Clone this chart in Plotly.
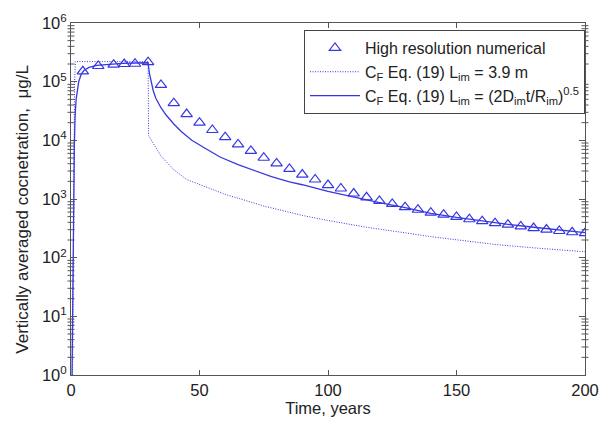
import plotly.graph_objects as go

# High resolution numerical (triangles)
t_num = [4.6, 10.6, 16.6, 20.7, 24.9, 30, 35, 40, 45, 50, 55, 60, 65, 70, 75, 80, 85, 90,
         95, 100, 105, 110, 115, 120, 125, 130, 135, 140, 145, 150, 155, 160, 165, 170,
         175, 180, 185, 190, 195, 200]
c_num = [1.5e5, 1.85e5, 1.95e5, 2.0e5, 2.02e5, 2.15e5, 88000, 43000, 28000, 20000, 15000,
         11300, 8500, 6600, 5050, 4050, 3250, 2610, 2150, 1730, 1510, 1240, 1070, 926, 825,
         727, 656, 584, 541, 496, 452, 419, 387, 365, 341, 320, 301, 285, 271, 261]

# C_F Eq. (19), L_im = 3.9 m (dotted)
t_fix = [0.6, 1.0, 1.4, 1.7, 5, 10, 20, 30, 30.2, 31, 32, 33, 35, 38, 40, 45, 50, 60, 75,
         90, 100, 115, 130, 140, 155, 165, 180, 190, 200]
c_fix = [1, 2000, 1e5, 2.2e5, 2.2e5, 2.2e5, 2.2e5, 2.2e5, 1.2e4, 1.05e4, 8800, 7300, 5400,
         3900, 3150, 2150, 1760, 1200, 760, 525, 430, 330, 265, 228, 190, 168, 147, 135, 126]

# C_F Eq. (19), L_im = (2 D_im t / R_im)^0.5 (solid)
t_var = [0.4, 0.8, 1.0, 1.3, 1.6, 2, 3, 4, 5, 7, 10, 15, 20, 25, 30, 30.5, 31, 32, 33, 35,
         37, 40, 43, 47, 52, 58, 65, 72, 78, 85, 90, 100, 110, 120, 130, 140, 150, 160, 170,
         180, 190, 200]
c_var = [1, 100, 1000, 8000, 26000, 50000, 100000, 135000, 155000, 175000, 190000, 200000,
         205000, 208000, 210000, 140000, 105000, 70000, 52000, 36000, 27000, 19000, 14000,
         10000, 7400, 5200, 3850, 2950, 2400, 1950, 1750, 1350, 1070, 870, 710, 570, 485, 420,
         370, 330, 298, 268]

x_ticks = [0, 50, 100, 150, 200]
x_range = [0, 200]
y_ticks = [1, 10, 100, 1000, 10000, 100000, 1000000]
y_ticktext = ["10<sup>%d</sup>" % i for i in range(7)]
y_minor = [k * 10 ** e for e in range(6) for k in range(2, 10)]

blue = "rgb(55,55,225)"
axis_col = "#555"
font = "Liberation Sans, Arial, sans-serif"

fig = go.Figure()
# minor log ticks on left and right frame edges
fig.add_trace(go.Scatter(
    x=[x_range[0]] * len(y_minor) + [x_range[1]] * len(y_minor), y=y_minor + y_minor,
    mode="markers", showlegend=False, hoverinfo="skip", cliponaxis=False,
    marker=dict(symbol="line-ew", size=5, color=axis_col, line=dict(width=1, color=axis_col))))
fig.add_trace(go.Scatter(
    x=t_num, y=c_num, mode="markers", name="High resolution numerical",
    marker=dict(symbol="triangle-up-open", size=10, color=blue, line=dict(width=1.2, color=blue))))
fig.add_trace(go.Scatter(
    x=t_fix, y=c_fix, mode="lines",
    name="C<sub>F</sub> Eq. (19) L<sub>im</sub> = 3.9 m",
    line=dict(color=blue, width=1, dash="1px,1.5px")))
fig.add_trace(go.Scatter(
    x=t_var, y=c_var, mode="lines",
    name="C<sub>F</sub> Eq. (19) L<sub>im</sub> = (2D<sub>im</sub>t/R<sub>im</sub>)<sup>0.5</sup>",
    line=dict(color=blue, width=1.3)))

fig.update_layout(
    width=611, height=427,
    margin=dict(l=71, r=25, t=16, b=52),
    paper_bgcolor="white", plot_bgcolor="white",
    font=dict(family=font, size=16, color="#222"),
    showlegend=True,
    legend=dict(x=1.0, y=0.98, xanchor="right", yanchor="top",
                bgcolor="white", bordercolor="#444", borderwidth=1,
                font=dict(size=16, family=font, color="#222"),
                tracegroupgap=0, itemwidth=50),
    annotations=[dict(text="Vertically averaged cocnetration,  μg/L", textangle=-90,
                      xref="paper", yref="paper", x=-0.095, y=0.47,
                      xanchor="center", yanchor="middle", showarrow=False,
                      font=dict(size=17, family=font, color="#222"))],
)
fig.layout.xaxis.update(
    range=x_range, tickvals=x_ticks, ticks="inside", ticklen=5, tickcolor=axis_col,
    showline=True, linecolor=axis_col, linewidth=1, mirror="ticks",
    showgrid=False, zeroline=False,
    title=dict(text="Time, years", standoff=2, font=dict(size=16.5)),
    tickfont=dict(size=16.5))
fig.layout.yaxis.update(
    type="log", range=[0, 6], tickvals=y_ticks, ticktext=y_ticktext,
    ticks="inside", ticklen=6, tickcolor=axis_col,
    showline=True, linecolor=axis_col, linewidth=1, mirror="ticks",
    showgrid=False, zeroline=False,
    tickfont=dict(size=16.5))

fig.write_html("out.html")
